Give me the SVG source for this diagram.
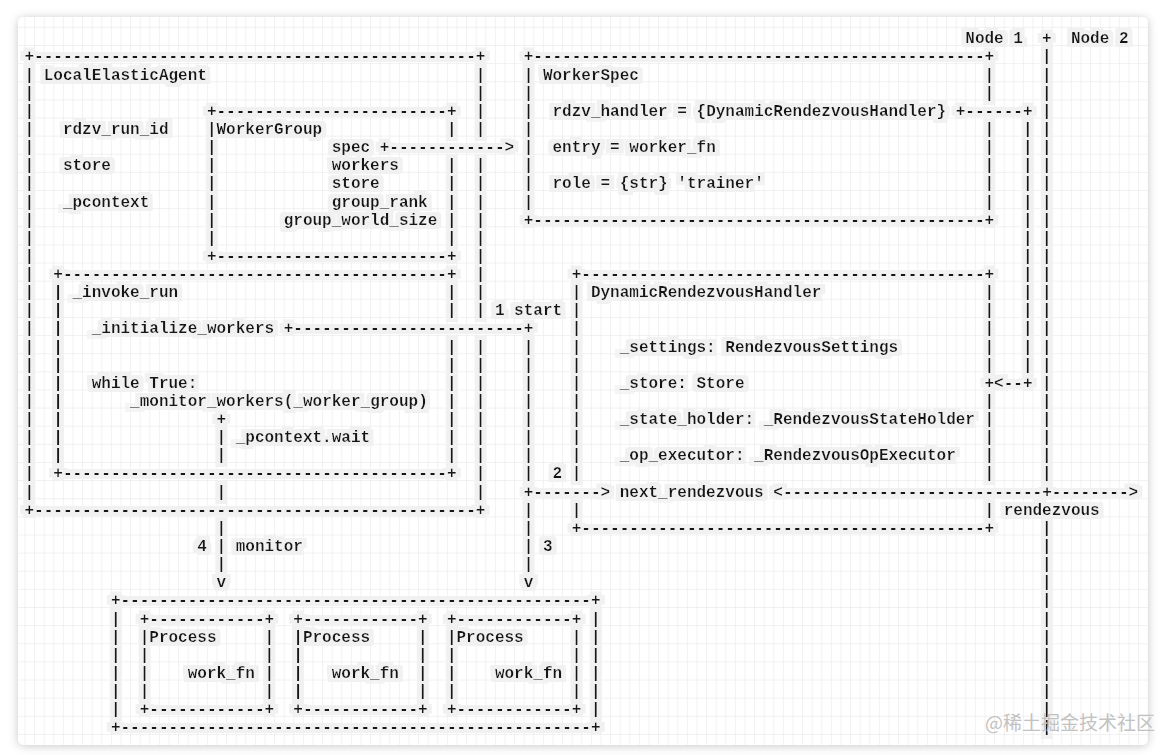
<svg xmlns="http://www.w3.org/2000/svg" width="1166" height="755" viewBox="0 0 1166 755" xml:space="preserve">
<defs>
<style>
.t{font-family:"Liberation Mono","DejaVu Sans Mono",monospace;font-size:16px;font-weight:bold;fill:#151515;}
.wm{font-family:"Noto Sans CJK SC","Noto Sans",sans-serif;font-size:19px;fill:#c2c2c2;}
</style>
<pattern id="grid" patternUnits="userSpaceOnUse" x="24.5" y="45" width="9.6" height="18.13">
<path d="M0 0H9.6M0 0V18.13" fill="none" stroke="#e4e4e4" stroke-width="1"/>
</pattern>
<filter id="shadow" x="-5%" y="-5%" width="110%" height="110%">
<feDropShadow dx="0" dy="1" stdDeviation="5" flood-color="#000" flood-opacity="0.22"/>
</filter>
<filter id="hl" filterUnits="userSpaceOnUse" x="0" y="0" width="1166" height="755">
<feMorphology in="SourceAlpha" operator="dilate" radius="5 4" result="d"/>
<feFlood flood-color="#f1f1f1"/>
<feComposite in2="d" operator="in" result="bg"/>
<feMerge><feMergeNode in="bg"/><feMergeNode in="SourceGraphic"/></feMerge>
</filter>
</defs>
<rect width="1166" height="755" fill="#ffffff"/>
<rect x="18" y="17" width="1130" height="728" rx="6" fill="#ffffff" filter="url(#shadow)"/>
<rect x="18" y="17" width="1130" height="728" rx="6" fill="url(#grid)"/>

<g filter="url(#hl)">
<g id="node-local-elastic-agent">
<text class="t" x="24.5" y="61.4">+----------------------------------------------+</text>
<text class="t" x="24.5" y="514.7">+----------------------------------------------+</text>
<text class="t" x="24.5 24.5 24.5 24.5 24.5 24.5 24.5 24.5 24.5 24.5 24.5 24.5 24.5 24.5 24.5 24.5 24.5 24.5 24.5 24.5 24.5 24.5 24.5 24.5" y="79.6 97.7 115.8 134.0 152.1 170.2 188.3 206.5 224.6 242.7 260.9 279.0 297.1 315.3 333.4 351.5 369.6 387.8 405.9 424.0 442.2 460.3 478.4 496.6">||||||||||||||||||||||||</text>
<text class="t" x="475.7 475.7 475.7 475.7" y="79.6 97.7 115.8 134.0">||||</text>
<text class="t" x="475.7 475.7 475.7 475.7 475.7 475.7 475.7 475.7 475.7" y="170.2 188.3 206.5 224.6 242.7 260.9 279.0 297.1 315.3">|||||||||</text>
<text class="t" x="475.7 475.7 475.7 475.7 475.7 475.7 475.7 475.7 475.7" y="351.5 369.6 387.8 405.9 424.0 442.2 460.3 478.4 496.6">|||||||||</text>
<text class="t" x="43.7" y="79.6">LocalElasticAgent</text>
<text class="t" x="62.9" y="134.0">rdzv_run_id</text>
<text class="t" x="62.9" y="170.2">store</text>
<text class="t" x="62.9" y="206.5">_pcontext</text>
</g>

<g id="node-worker-group">
<text class="t" x="206.9" y="115.8">+------------------------+</text>
<text class="t" x="206.9" y="260.9">+------------------------+</text>
<text class="t" x="206.9" y="134.0">|WorkerGroup</text>
<text class="t" x="206.9 206.9 206.9 206.9 206.9 206.9" y="152.1 170.2 188.3 206.5 224.6 242.7">||||||</text>
<text class="t" x="446.9" y="134.0">|</text>
<text class="t" x="446.9 446.9 446.9 446.9 446.9" y="170.2 188.3 206.5 224.6 242.7">|||||</text>
<text class="t" x="331.7" y="152.1">spec</text>
<text class="t" x="331.7" y="170.2">workers</text>
<text class="t" x="331.7" y="188.3">store</text>
<text class="t" x="331.7" y="206.5">group_rank</text>
<text class="t" x="283.7" y="224.6">group_world_size</text>
</g>

<g id="node-worker-spec">
<text class="t" x="523.7" y="61.4">+-----------------------------------------------+</text>
<text class="t" x="523.7" y="224.6">+-----------------------------------------------+</text>
<text class="t" x="523.7 523.7 523.7 523.7 523.7 523.7 523.7 523.7" y="79.6 97.7 115.8 134.0 152.1 170.2 188.3 206.5">||||||||</text>
<text class="t" x="984.5 984.5" y="79.6 97.7">||</text>
<text class="t" x="984.5 984.5 984.5 984.5 984.5" y="134.0 152.1 170.2 188.3 206.5">|||||</text>
<text class="t" x="542.9" y="79.6">WorkerSpec</text>
<text class="t" x="552.5" y="115.8">rdzv_handler = {DynamicRendezvousHandler}</text>
<text class="t" x="552.5" y="152.1">entry = worker_fn</text>
<text class="t" x="552.5" y="188.3">role = {str} 'trainer'</text>
</g>

<g id="node-invoke-run">
<text class="t" x="53.3" y="279.0">+----------------------------------------+</text>
<text class="t" x="53.3" y="478.4">+----------------------------------------+</text>
<text class="t" x="53.3 53.3 53.3 53.3 53.3 53.3 53.3 53.3 53.3 53.3" y="297.1 315.3 333.4 351.5 369.6 387.8 405.9 424.0 442.2 460.3">||||||||||</text>
<text class="t" x="446.9 446.9" y="297.1 315.3">||</text>
<text class="t" x="446.9 446.9 446.9 446.9 446.9 446.9 446.9" y="351.5 369.6 387.8 405.9 424.0 442.2 460.3">|||||||</text>
<text class="t" x="72.5" y="297.1">_invoke_run</text>
<text class="t" x="91.7" y="333.4">_initialize_workers</text>
<text class="t" x="91.7" y="387.8">while True:</text>
<text class="t" x="130.1" y="405.9">_monitor_workers(_worker_group)</text>
</g>

<g id="node-dynamic-rendezvous-handler">
<text class="t" x="571.7" y="279.0">+------------------------------------------+</text>
<text class="t" x="571.7" y="532.8">+------------------------------------------+</text>
<text class="t" x="571.7 571.7 571.7 571.7 571.7 571.7 571.7 571.7 571.7 571.7 571.7" y="297.1 315.3 333.4 351.5 369.6 387.8 405.9 424.0 442.2 460.3 478.4">|||||||||||</text>
<text class="t" x="571.7" y="514.7">|</text>
<text class="t" x="984.5 984.5 984.5 984.5 984.5" y="297.1 315.3 333.4 351.5 369.6">|||||</text>
<text class="t" x="984.5 984.5 984.5 984.5 984.5" y="405.9 424.0 442.2 460.3 478.4">|||||</text>
<text class="t" x="984.5" y="514.7">|</text>
<text class="t" x="590.9" y="297.1">DynamicRendezvousHandler</text>
<text class="t" x="619.7" y="351.5">_settings: RendezvousSettings</text>
<text class="t" x="619.7" y="387.8">_store: Store</text>
<text class="t" x="619.7" y="424.0">_state_holder: _RendezvousStateHolder</text>
<text class="t" x="619.7" y="460.3">_op_executor: _RendezvousOpExecutor</text>
<text class="t" x="619.7" y="496.6">next_rendezvous</text>
</g>

<g id="node-processes">
<text class="t" x="110.9" y="605.3">+-------------------------------------------------+</text>
<text class="t" x="110.9" y="732.2">+-------------------------------------------------+</text>
<text class="t" x="110.9 110.9 110.9 110.9 110.9 110.9" y="623.5 641.6 659.7 677.9 696.0 714.1">||||||</text>
<text class="t" x="590.9 590.9 590.9 590.9 590.9 590.9" y="623.5 641.6 659.7 677.9 696.0 714.1">||||||</text>
</g>

<g id="node-process-1">
<text class="t" x="139.7" y="623.5">+------------+</text>
<text class="t" x="139.7" y="714.1">+------------+</text>
<text class="t" x="139.7" y="641.6">|Process</text>
<text class="t" x="139.7 139.7 139.7" y="659.7 677.9 696.0">|||</text>
<text class="t" x="264.5 264.5 264.5 264.5" y="641.6 659.7 677.9 696.0">||||</text>
<text class="t" x="187.7" y="677.9">work_fn</text>
</g>

<g id="node-process-2">
<text class="t" x="293.3" y="623.5">+------------+</text>
<text class="t" x="293.3" y="714.1">+------------+</text>
<text class="t" x="293.3" y="641.6">|Process</text>
<text class="t" x="293.3 293.3 293.3" y="659.7 677.9 696.0">|||</text>
<text class="t" x="418.1 418.1 418.1 418.1" y="641.6 659.7 677.9 696.0">||||</text>
<text class="t" x="331.7" y="677.9">work_fn</text>
</g>

<g id="node-process-3">
<text class="t" x="446.9" y="623.5">+------------+</text>
<text class="t" x="446.9" y="714.1">+------------+</text>
<text class="t" x="446.9" y="641.6">|Process</text>
<text class="t" x="446.9 446.9 446.9" y="659.7 677.9 696.0">|||</text>
<text class="t" x="571.7 571.7 571.7 571.7" y="641.6 659.7 677.9 696.0">||||</text>
<text class="t" x="494.9" y="677.9">work_fn</text>
</g>

<g id="node-divider">
<text class="t" x="965.3" y="43.3">Node 1</text>
<text class="t" x="1042.1" y="43.3">+</text>
<text class="t" x="1070.9" y="43.3">Node 2</text>
<text class="t" x="1042.1 1042.1 1042.1 1042.1 1042.1 1042.1 1042.1 1042.1 1042.1 1042.1 1042.1 1042.1 1042.1 1042.1 1042.1 1042.1 1042.1 1042.1 1042.1 1042.1 1042.1 1042.1 1042.1 1042.1" y="61.4 79.6 97.7 115.8 134.0 152.1 170.2 188.3 206.5 224.6 242.7 260.9 279.0 297.1 315.3 333.4 351.5 369.6 387.8 405.9 424.0 442.2 460.3 478.4">||||||||||||||||||||||||</text>
<text class="t" x="1042.1 1042.1 1042.1 1042.1 1042.1 1042.1 1042.1 1042.1 1042.1 1042.1 1042.1 1042.1" y="532.8 550.9 569.1 587.2 605.3 623.5 641.6 659.7 677.9 696.0 714.1 732.2">||||||||||||</text>
</g>
</g>

<g id="connectors" filter="url(#hl)">
<g id="edge-spec">
<text class="t" x="379.7" y="152.1">+------------&gt;</text>
</g>
<g id="edge-rdzv-handler">
<text class="t" x="955.7" y="115.8">+------+</text>
<text class="t" x="1022.9 1022.9 1022.9 1022.9 1022.9 1022.9 1022.9 1022.9 1022.9 1022.9 1022.9 1022.9 1022.9 1022.9" y="134.0 152.1 170.2 188.3 206.5 224.6 242.7 260.9 279.0 297.1 315.3 333.4 351.5 369.6">||||||||||||||</text>
<text class="t" x="984.5" y="387.8">+&lt;--+</text>
</g>
<g id="edge-start">
<text class="t" x="283.7" y="333.4">+------------------------+</text>
<text class="t" x="494.9" y="315.3">1 start</text>
<text class="t" x="523.7 523.7 523.7 523.7 523.7 523.7 523.7 523.7" y="351.5 369.6 387.8 405.9 424.0 442.2 460.3 478.4">||||||||</text>
<text class="t" x="523.7" y="496.6">+-------&gt;</text>
<text class="t" x="523.7 523.7 523.7 523.7 523.7" y="514.7 532.8 550.9 569.1 587.2">||||v</text>
<text class="t" x="552.5" y="478.4">2</text>
<text class="t" x="542.9" y="550.9">3</text>
</g>
<g id="edge-monitor">
<text class="t" x="216.5 216.5 216.5" y="424.0 442.2 460.3">+||</text>
<text class="t" x="216.5" y="496.6">|</text>
<text class="t" x="216.5 216.5 216.5 216.5" y="532.8 550.9 569.1 587.2">|||v</text>
<text class="t" x="235.7" y="442.2">_pcontext.wait</text>
<text class="t" x="197.3" y="550.9">4</text>
<text class="t" x="235.7" y="550.9">monitor</text>
</g>
<g id="edge-rendezvous">
<text class="t" x="773.3" y="496.6">&lt;---------------------------+--------&gt;</text>
<text class="t" x="1003.7" y="514.7">rendezvous</text>
</g>
</g>

<text class="wm" x="985" y="730">@稀土掘金技术社区</text>
</svg>
